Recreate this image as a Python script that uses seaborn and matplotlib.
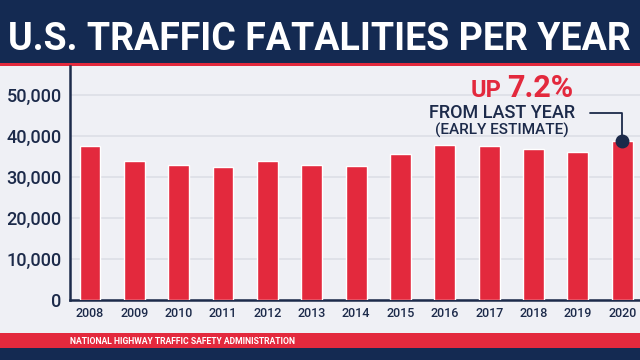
import matplotlib
matplotlib.use("Agg")
import matplotlib.pyplot as plt
import seaborn as sns
import pandas as pd
from matplotlib.patches import Rectangle

years = ["2008", "2009", "2010", "2011", "2012", "2013", "2014",
         "2015", "2016", "2017", "2018", "2019", "2020"]
fatalities = [37423, 33883, 32999, 32479, 33782, 32893, 32744,
              35484, 37806, 37473, 36835, 36096, 38680]
yticks = [0, 10000, 20000, 30000, 40000, 50000]
ytick_labels = ["0", "10,000", "20,000", "30,000", "40,000", "50,000"]

NAVY = "#142a52"
TEXT = "#1c2a4a"
RED = "#e3293d"
BG = "#eff0f5"

sns.set_theme(style="white")
plt.rcParams['font.family'] = ['Roboto', 'DejaVu Sans']

df = pd.DataFrame({"year": years, "fatalities": fatalities})

fig = plt.figure(figsize=(6.4, 3.6), dpi=100)
fig.patch.set_facecolor(BG)
ax = fig.add_axes([70/640, 1 - 300/360, 1 - 70/640, (300 - 66)/360])
ax.set_facecolor(BG)

sns.barplot(data=df, x="year", y="fatalities", color=RED, width=0.47,
            saturation=1, ax=ax, zorder=3)

ax.set_xlim(-0.45, 12.4)
ax.set_ylim(0, 57000)
ax.set_yticks(yticks)
ax.set_yticklabels(ytick_labels, fontsize=13, color=TEXT, fontweight="medium")
ax.tick_params(axis="y", length=0, pad=6)
ax.tick_params(axis="x", length=0, pad=5, labelsize=9, labelcolor=TEXT)
for lab in ax.get_xticklabels():
    lab.set_fontweight("medium")
ax.set_xlabel("")
ax.set_ylabel("")
ax.yaxis.grid(True, color="#dcdee6", linewidth=1.2, zorder=0)
ax.set_axisbelow(True)
for s in ["top", "right"]:
    ax.spines[s].set_visible(False)
for s in ["left", "bottom"]:
    ax.spines[s].set_color(TEXT)
    ax.spines[s].set_linewidth(1.8)

# annotation on 2020 bar
ax.plot([12], [fatalities[-1]], "o", color=TEXT, markersize=9, zorder=5, clip_on=False)
ax.annotate("", xy=(12, fatalities[-1]), xytext=(11.2, 45500),
            arrowprops=dict(arrowstyle="-", color=TEXT, lw=1.3,
                            connectionstyle="angle,angleA=0,angleB=90,rad=0"),
            zorder=4)
ax.text(9.29, 45500, "FROM LAST YEAR", ha="center", va="center",
        fontsize=13, color=TEXT, fontweight="medium")
ax.text(9.29, 41300, "(EARLY ESTIMATE)", ha="center", va="center",
        fontsize=11, color=TEXT, fontweight="medium")
ax.text(9.28, 49500, "UP", ha="right", va="baseline", fontsize=17,
        color=RED, fontweight="bold")
ax.text(9.4, 49500, "7.2%", ha="left", va="baseline", fontsize=22,
        color=RED, fontweight="bold")

# header band
fig.add_artist(Rectangle((0, 1 - 63/360), 1, 63/360, transform=fig.transFigure,
                         facecolor=NAVY, edgecolor="none", zorder=0))
fig.add_artist(Rectangle((0, 1 - 66/360), 1, 3/360, transform=fig.transFigure,
                         facecolor=RED, edgecolor="none", zorder=0))
fig.text(8/640, 1 - 40/360, "U.S. TRAFFIC FATALITIES PER YEAR", color="white",
         fontsize=27, fontweight="bold", ha="left", va="center")

# footer bands
fig.add_artist(Rectangle((0, 1 - 348/360), 1, 15/360, transform=fig.transFigure,
                         facecolor=RED, edgecolor="none", zorder=0))
fig.add_artist(Rectangle((0, 0), 1, 12/360, transform=fig.transFigure,
                         facecolor=NAVY, edgecolor="none", zorder=0))
fig.text(70/640, 1 - 341/360, "NATIONAL HIGHWAY TRAFFIC SAFETY ADMINISTRATION",
         color="white", fontsize=6.2, fontweight="bold", ha="left", va="center")

fig.savefig("out.png", dpi=100, facecolor=fig.get_facecolor())
